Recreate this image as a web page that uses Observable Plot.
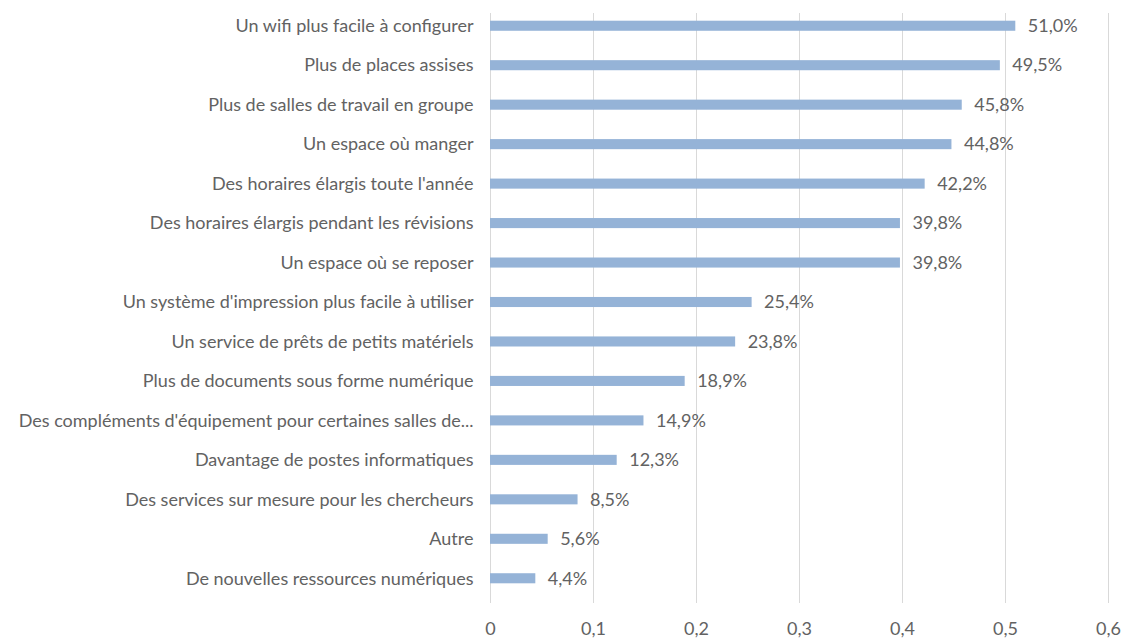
<!DOCTYPE html>
<html>
<head>
<meta charset="utf-8">
<script src="https://cdn.jsdelivr.net/npm/d3@7"></script>
<script src="https://cdn.jsdelivr.net/npm/@observablehq/plot@0.6"></script>
<style>
  html, body { margin: 0; padding: 0; background: #fff; }
  #chart { width: 1126px; height: 639px; }
</style>
</head>
<body>
<div id="chart"></div>
<script>
const categories = [
  "Un wifi plus facile à configurer",
  "Plus de places assises",
  "Plus de salles de travail en groupe",
  "Un espace où manger",
  "Des horaires élargis toute l'année",
  "Des horaires élargis pendant les révisions",
  "Un espace où se reposer",
  "Un système d'impression plus facile à utiliser",
  "Un service de prêts de petits matériels",
  "Plus de documents sous forme numérique",
  "Des compléments d'équipement pour certaines salles de...",
  "Davantage de postes informatiques",
  "Des services sur mesure pour les chercheurs",
  "Autre",
  "De nouvelles ressources numériques"
];
const values = [0.510, 0.495, 0.458, 0.448, 0.422, 0.398, 0.398, 0.254, 0.238, 0.189, 0.149, 0.123, 0.085, 0.056, 0.044];
const xTicks = [0, 0.1, 0.2, 0.3, 0.4, 0.5, 0.6];

const data = categories.map((c, i) => ({ category: c, value: values[i] }));
const comma = v => (v === 0 ? "0" : String(v).replace(".", ","));
const pct = v => (v * 100).toFixed(1).replace(".", ",") + "%";

const chart = Plot.plot({
  width: 1126,
  height: 639,
  marginLeft: 490,
  marginRight: 18,
  marginTop: 6,
  marginBottom: 41,
  style: { fontFamily: "Lato, 'Open Sans', sans-serif", fontSize: "18px", color: "#626262", background: "#fff" },
  x: { domain: [0, 0.6], ticks: xTicks, tickFormat: comma, tickSize: 0, tickPadding: 24, label: null },
  y: { domain: categories, padding: 0, round: false, tickSize: 0, tickPadding: 17, label: null },
  marks: [
    Plot.ruleX(xTicks, { stroke: "#d9d9d9", strokeWidth: 1, insetTop: 7, insetBottom: -5 }),
    Plot.barX(data, { x: "value", y: "category", fill: "#95b3d7", insetTop: 14.7, insetBottom: 14.7 }),
    Plot.text(data, {
      x: "value", y: "category", text: d => pct(d.value),
      dx: 12, textAnchor: "start", fill: "#626262", fontSize: 18
    })
  ]
});
document.getElementById("chart").append(chart);
</script>
</body>
</html>
